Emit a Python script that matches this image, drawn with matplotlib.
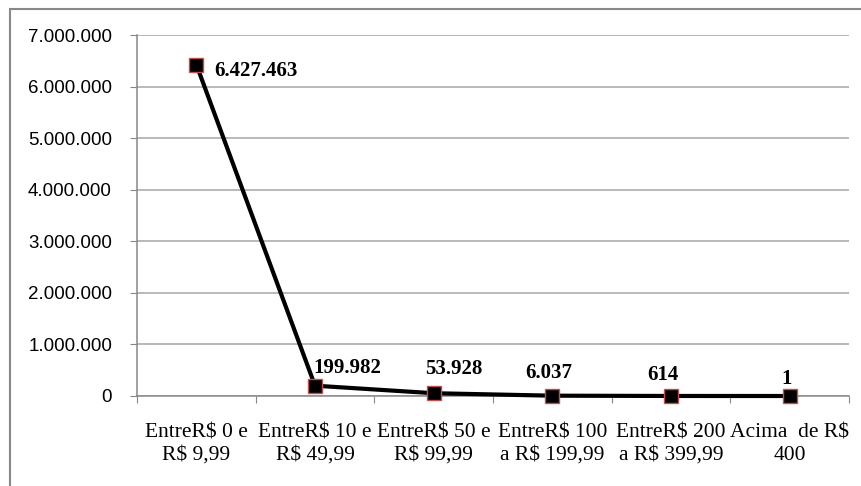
import matplotlib
matplotlib.use("Agg")
from matplotlib import pyplot as plt
from matplotlib.patches import Rectangle
from matplotlib.ticker import FuncFormatter, FixedLocator

categories = ["EntreR$ 0 e\nR$ 9,99", "EntreR$ 10 e\nR$ 49,99", "EntreR$ 50 e\nR$ 99,99",
              "EntreR$ 100\na R$ 199,99", "EntreR$ 200\na R$ 399,99", "Acima  de R$\n400"]
values = [6427463, 199982, 53928, 6037, 614, 1]

# label offsets in pixels (dx, dy) and alignment
label_pos = [(18, -6, "left"), (32, 13, "center"), (20, 19, "center"),
             (-4, 18, "center"), (-8, 16, "center"), (-3, 12, "center")]


def dots(v, pos=None):
    return f"{v:,.0f}".replace(",", ".")


fig = plt.figure(figsize=(8.61, 4.86), dpi=100)
ax = fig.add_axes([137 / 861, 1 - 396 / 486, (849 - 137) / 861, (396 - 35) / 486])

x = list(range(len(values)))
ax.plot(x, values, color="black", linewidth=3, marker="s", markersize=10.5,
        markerfacecolor="black", markeredgecolor="#c0504d", markeredgewidth=1, zorder=3,
        clip_on=False)

for i, v in enumerate(values):
    dx, dy, ha = label_pos[i]
    ax.annotate(dots(v), (i, v), xytext=(dx, dy), textcoords="offset pixels",
                ha=ha, va="center" if ha == "left" else "baseline",
                fontfamily="Liberation Serif", fontweight="bold", fontsize=15, zorder=4)

ax.set_xlim(-0.5, 5.5)
ax.set_ylim(0, 7000000)
ax.set_yticks(range(0, 7000001, 1000000))
ax.yaxis.set_major_formatter(FuncFormatter(dots))
ax.grid(axis="y", color="#a6a6a6", linewidth=1.1)
ax.set_axisbelow(True)

ax.xaxis.set_major_locator(FixedLocator([i - 0.5 for i in range(7)]))
ax.xaxis.set_major_formatter(FuncFormatter(lambda v, p: ""))
ax.xaxis.set_minor_locator(FixedLocator(x))
ax.set_xticklabels(categories, minor=True, fontfamily="Liberation Serif", fontsize=15.5,
                   linespacing=1.2)
ax.tick_params(axis="x", which="major", length=5, color="#888888", direction="out")
ax.tick_params(axis="x", which="minor", length=0, pad=20)
ax.tick_params(axis="y", length=5, color="#888888", pad=13)
for lab in ax.get_yticklabels():
    lab.set_fontfamily("Liberation Sans")
    lab.set_fontsize(13.5)

for s in ["top", "right"]:
    ax.spines[s].set_visible(False)
for s in ["left", "bottom"]:
    ax.spines[s].set_color("#888888")
    ax.spines[s].set_linewidth(1.1)

fig.patches.append(Rectangle((10 / 861, -0.1), 1.2, 1.1 - 9 / 486, transform=fig.transFigure,
                             fill=False, edgecolor="#888888", linewidth=1.5))

fig.savefig("out.png", dpi=100)
